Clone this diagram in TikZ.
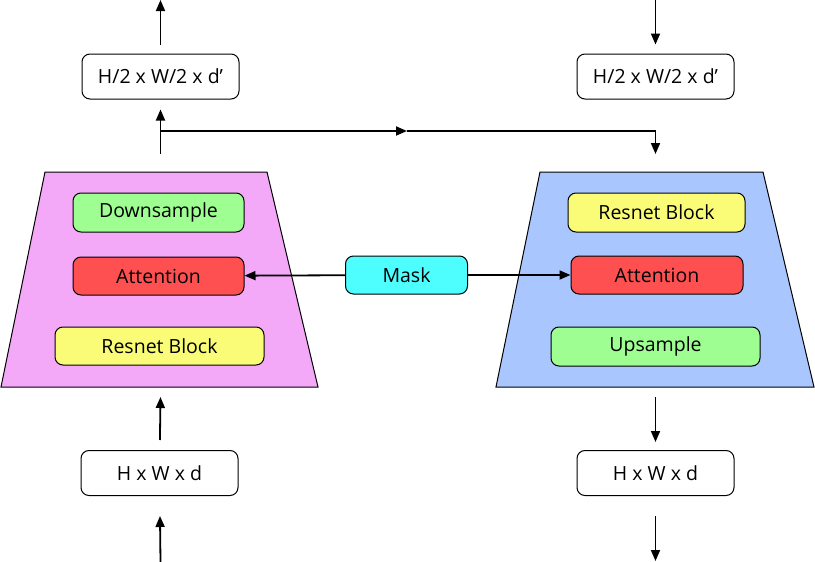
\documentclass[tikz,border=0pt]{standalone}
\usepackage{fontspec}
\setmainfont{Open Sans}
\usetikzlibrary{arrows.meta}
\definecolor{pinkbg}{HTML}{F4A8F8}
\definecolor{bluebg}{HTML}{A9C7FE}
\definecolor{greenbox}{HTML}{9EFE92}
\definecolor{redbox}{HTML}{FE5050}
\definecolor{yellowbox}{HTML}{FAFC78}
\definecolor{cyanbox}{HTML}{4EFEFE}
\begin{document}
\begin{tikzpicture}[x=1pt,y=-1pt,
  box/.style={draw=black, line width=1pt, rounded corners=8pt, inner sep=0pt, font=\fontsize{19.5}{22}\selectfont},
  dimbox/.style={box, fill=white, minimum width=157pt, minimum height=45pt},
  arr/.style={line width=1.8pt, -{Triangle[length=11pt,width=9pt]}},
  plain/.style={line width=1.8pt}]
\useasboundingbox (0,0) rectangle (815,562);
% trapezoids
\draw[fill=pinkbg, line width=1pt] (45,172) -- (267,172) -- (318,387) -- (1,387) -- cycle;
\draw[fill=bluebg, line width=1pt] (540,172) -- (763,172) -- (814,387) -- (496,387) -- cycle;
% left blocks
\node[box, fill=greenbox, minimum width=171pt, minimum height=39pt] (ldown) at (158.5,212.5) {Downsample};
\node[box, fill=redbox, minimum width=171pt, minimum height=38pt] (latt) at (158.5,276) {Attention};
\node[box, fill=yellowbox, minimum width=209pt, minimum height=38pt] (lres) at (159.5,346) {Resnet Block};
% mask
\node[box, fill=cyanbox, minimum width=122pt, minimum height=38pt] (mask) at (406.5,275) {Mask};
% right blocks
\node[box, fill=yellowbox, minimum width=177pt, minimum height=39pt] (rres) at (656.5,212.5) {Resnet Block};
\node[box, fill=redbox, minimum width=172pt, minimum height=38pt] (ratt) at (657,275) {Attention};
\node[box, fill=greenbox, minimum width=209pt, minimum height=39pt] (rup) at (655.5,346.5) {Upsample};
% dimension boxes
\node[dimbox] (tl) at (160.5,76.5) {H/2 x W/2 x d’};
\node[dimbox] (tr) at (655.5,76.5) {H/2 x W/2 x d’};
\node[dimbox] (bl) at (159.5,473) {H x W x d};
\node[dimbox] (br) at (655.5,473) {H x W x d};
% free ends
\coordinate (tlout) at (160.5,0);
\coordinate (trin) at (655.5,0);
\coordinate (lsplit) at (160.5,154);
\coordinate (lbranch) at (160.5,131);
\coordinate (hmid) at (407,131);
\coordinate (rcorner) at (655.5,131);
\coordinate (rend) at (655.5,154);
\coordinate (lencin) at (160.5,397);
\coordinate (blin) at (160.5,562);
\coordinate (rdecout) at (655.5,397);
\coordinate (brout) at (655.5,561);
% connectors
\draw[arr, shorten <=9pt] (tl) -- (tlout);
\draw[arr, shorten >=10pt] (lsplit) -- (tl);
\draw[arr] (lbranch) -- (hmid);
\draw[plain] (hmid) -- (rcorner);
\draw[arr] (rcorner) -- (rend);
\draw[arr, shorten >=9pt] (trin) -- (tr);
\draw[arr, shorten <=10pt] (bl) -- (lencin);
\draw[arr, shorten >=20pt] (blin) -- (bl);
\draw[arr, shorten >=8pt] (rdecout) -- (br);
\draw[arr, shorten <=20pt] (br) -- (brout);
\draw[arr] (mask) -- (latt);
\draw[arr] (mask) -- (ratt);
\end{tikzpicture}
\end{document}
